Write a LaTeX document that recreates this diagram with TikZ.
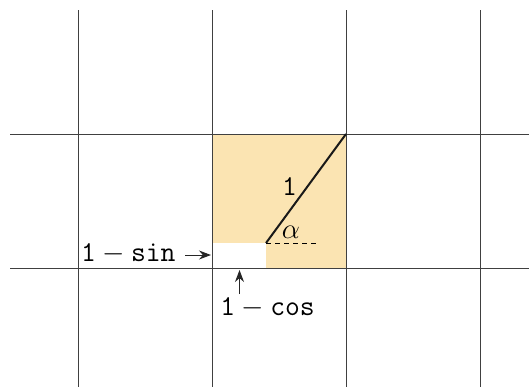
\documentclass[tikz,border=0pt]{standalone}
\usetikzlibrary{arrows.meta}
\definecolor{sqfill}{RGB}{251,228,178}
\tikzset{
  gridline/.style={draw=black!75,line width=0.45pt},
  lbl/.style={inner sep=0pt,font=\fontsize{14}{16}\selectfont},
  ptr/.style={draw=black!85,line width=0.5pt,-{Stealth[length=6pt,width=4.5pt]}},
}
\begin{document}
\begin{tikzpicture}[x=0.5pt,y=-0.5pt]
\useasboundingbox (0,0) rectangle (529,387);
\fill[sqfill] (212,134) rectangle (346,268);
\fill[white] (212,243) rectangle (266,268);
\foreach \gx in {78,212,346,480} \draw[gridline] (\gx,10) -- (\gx,387);
\foreach \gy in {134,268} \draw[gridline] (10,\gy) -- (529,\gy);
\coordinate (O) at (266,243);
\coordinate (P) at (346,134);
\coordinate (D) at (317,243);
\coordinate (S0) at (185,255);
\coordinate (S) at (211,255);
\coordinate (C0) at (239.5,294);
\coordinate (C) at (239.5,270);
\draw[line width=1pt,black!90] (O) -- (P);
\draw[dashed,line width=0.5pt,dash pattern=on 2.5pt off 2pt] (O) -- (D);
\node[lbl] (one) at (289.5,187) {$\mathtt{1}$};
\node[lbl] (al) at (291,232) {$\alpha$};
\node[lbl,anchor=east] (ls) at (176,254) {$\mathtt{1}-\mathtt{sin}$};
\node[lbl] (lc) at (267.5,308) {$\mathtt{1}-\mathtt{cos}$};
\draw[ptr] (S0) -- (S);
\draw[ptr] (C0) -- (C);
\end{tikzpicture}
\end{document}
